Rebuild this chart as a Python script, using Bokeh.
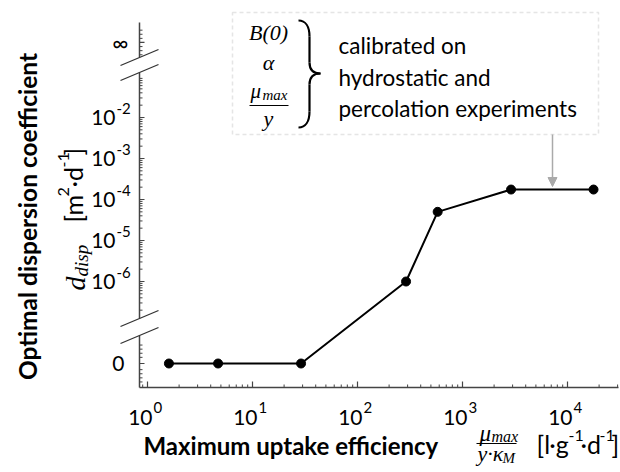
import math
from bokeh.plotting import figure
from bokeh.models import Range1d, LinearScale, Label, Arrow, NormalHead, BoxAnnotation
from bokeh.core.properties import value
from bokeh.embed import file_html
from bokeh.resources import INLINE

# ---------------- data ----------------
uptake_eff = [1.6, 4.7, 29, 290, 580, 2900, 17700]          # mu_max/(y*K_M)  [l g^-1 d^-1]
d_disp = [0, 0, 0, 1e-6, 5e-5, 1.75e-4, 1.75e-4]             # optimal dispersion coeff [m2 d-1]
x_ticks = [1, 10, 100, 1000, 10000]
x_tick_exponents = ["0", "1", "2", "3", "4"]
y_log_ticks = [-6, -5, -4, -3, -2]
y_tick_exponents = ["-6", "-5", "-4", "-3", "-2"]
zero_label = "0"
inf_label = "∞"

# ---------------- layout constants ----------------
W, H = 620, 472
PX_DEC_X, X0_PX = 105.0, 147.0      # pixels per decade on x, pixel of 10^0
PX_DEC_Y, YM6_PX = 41.0, 281.0      # pixels per decade on y, pixel of 10^-6
ZERO_U = -8.0                       # broken-axis position used for value 0
INF_U = -0.17                       # broken-axis position used for infinity
AX_LEFT, AX_RIGHT, AX_BOTTOM, AX_TOP = 139, 618, 387, 22

X_LO = 10 ** ((0 - X0_PX) / PX_DEC_X)
X_HI = 10 ** ((W - X0_PX) / PX_DEC_X)
U_LO = -6 + (YM6_PX - H) / PX_DEC_Y
U_HI = -6 + YM6_PX / PX_DEC_Y

y_u = [ZERO_U if v == 0 else math.log10(v) for v in d_disp]

SANS = "Lato"
SERIF = "Liberation Serif"
AX = "#444444"
GRAY = "#aaaaaa"

p = figure(width=W, height=H, x_axis_type="log",
           x_range=Range1d(X_LO, X_HI), y_range=Range1d(U_LO, U_HI),
           x_axis_location=None, y_axis_location=None,
           output_backend="svg", toolbar_location=None,
           min_border_left=0, min_border_right=0, min_border_top=0, min_border_bottom=0)
p.outline_line_color = None
p.grid.visible = False

# page-pixel helper ranges for annotations
p.extra_x_ranges = {"px": Range1d(0, W)}
p.extra_x_scales = {"px": LinearScale()}
p.extra_y_ranges = {"px": Range1d(H, 0)}
PXY = dict(x_range_name="px", y_range_name="px")

# ---------------- x axis ----------------
x_minor = [k * 10 ** d for d in range(-1, 5) for k in range(2, 10)
           if 10 ** ((AX_LEFT - X0_PX) / PX_DEC_X) <= k * 10 ** d <= 10 ** ((AX_RIGHT - X0_PX) / PX_DEC_X)]
p.segment(x0=[AX_LEFT], y0=[AX_BOTTOM], x1=[AX_RIGHT], y1=[AX_BOTTOM],
          line_color=AX, line_width=1.5, **PXY)
p.segment(x0=x_ticks, x1=x_ticks, y0=[AX_BOTTOM] * len(x_ticks), y1=[AX_BOTTOM - 6] * len(x_ticks),
          line_color=AX, line_width=1.2, y_range_name="px")
p.segment(x0=x_minor, x1=x_minor, y0=[AX_BOTTOM] * len(x_minor), y1=[AX_BOTTOM - 3] * len(x_minor),
          line_color=AX, line_width=1, y_range_name="px")
p.text(x=x_ticks, y=[417] * len(x_ticks), text=["10"] * len(x_ticks), x_offset=5,
       text_align="right", text_baseline="middle", text_font=value(SANS),
       text_font_size="21px", text_color="black", y_range_name="px")
p.text(x=x_ticks, y=[407] * len(x_ticks), text=x_tick_exponents, x_offset=6,
       text_align="left", text_baseline="middle", text_font=value(SANS),
       text_font_size="15px", text_color="black", y_range_name="px")

# ---------------- broken y axis ----------------
y_minor = [d + math.log10(k) for d in range(-7, 0) for k in range(2, 10)
           if -6.9 < d + math.log10(k) < -0.9]
y_minor += [ZERO_U + o for o in (-0.45, -0.35, -0.25, -0.15, 0.15, 0.25, 0.35, 0.45)]
y_minor += [INF_U + o for o in (-0.3, -0.2, -0.1, 0.1, 0.2, 0.3)]
y_major = [ZERO_U] + y_log_ticks + [INF_U]

for y0, y1 in [(AX_BOTTOM, 335), (318, 72), (57, AX_TOP)]:
    p.segment(x0=[AX_LEFT], y0=[y0], x1=[AX_LEFT], y1=[y1], line_color=AX, line_width=1.5, **PXY)
for yc in (57, 72, 318, 335):
    p.segment(x0=[120], y0=[yc + 8], x1=[158], y1=[yc - 8], line_color="#333333", line_width=1.2, **PXY)
p.segment(x0=[AX_LEFT] * len(y_major), x1=[AX_LEFT + 5] * len(y_major), y0=y_major, y1=y_major,
          line_color=AX, line_width=1.2, x_range_name="px")
p.segment(x0=[AX_LEFT] * len(y_minor), x1=[AX_LEFT + 3] * len(y_minor), y0=y_minor, y1=y_minor,
          line_color=AX, line_width=1, x_range_name="px")
p.text(x=[115] * len(y_log_ticks), y=y_log_ticks, text=["10"] * len(y_log_ticks),
       text_align="right", text_baseline="middle", text_font=value(SANS),
       text_font_size="21px", text_color="black", x_range_name="px")
p.text(x=[116] * len(y_log_ticks), y=y_log_ticks, text=y_tick_exponents, y_offset=-9,
       text_align="left", text_baseline="middle", text_font=value(SANS),
       text_font_size="15px", text_color="black", x_range_name="px")
p.text(x=[124], y=[ZERO_U], text=[zero_label], text_align="right", text_baseline="middle",
       text_font=value(SANS), text_font_size="21px", text_color="black", x_range_name="px")
p.text(x=[128], y=[INF_U], text=[inf_label], text_align="right", text_baseline="middle",
       text_font=value(SANS), text_font_size="22px", text_color="black", x_range_name="px")

# ---------------- data ----------------
p.line(uptake_eff, y_u, line_color="black", line_width=2)
p.scatter(uptake_eff, y_u, size=9, color="black")


def lab(text, x, y, size, style="normal", font=SANS, align="left", baseline="middle", angle=0.0):
    p.add_layout(Label(x=x, y=y, text=text, text_font=font, text_font_size=f"{size}px",
                       text_font_style=style, text_align=align, text_baseline=baseline,
                       angle=angle, text_color="black", **PXY))


# ---------------- y axis title ----------------
R = math.pi / 2
lab("Optimal dispersion coefficient", 27, 216, 24.5, "bold", align="center", angle=R)
lab("d", 75, 290, 28, "italic", font=SERIF, angle=R)
lab("disp", 81, 276, 19, "italic", font=SERIF, angle=R)
lab("[m", 72, 222, 25, angle=R)
lab("2", 63, 196, 16, angle=R)
lab("·d", 72, 187, 25, angle=R)
lab("-1", 63, 167, 16, angle=R)
lab("]", 72, 155, 25, angle=R)

# ---------------- x axis title ----------------
lab("Maximum uptake efficiency", 143, 445, 24, "bold")
lab("μ", 479, 433, 23, "italic", font=SERIF)
lab("max", 491, 436, 16, "italic", font=SERIF)
p.segment(x0=[476], y0=[443], x1=[516], y1=[443], line_color="black", line_width=1, **PXY)
lab("y·κ", 477, 453, 22, "italic", font=SERIF)
lab("M", 502, 457, 15, "italic", font=SERIF)
lab("[l·g", 536, 443, 25)
lab("-1", 568, 435, 16)
lab("·d", 580, 443, 25)
lab("-1", 599, 435, 16)
lab("]", 611, 443, 25)

# ---------------- annotation box ----------------
p.add_layout(BoxAnnotation(left=232, right=598, top=12, bottom=134, fill_alpha=0,
                           line_color=GRAY, line_dash="4 3", line_width=1.5, **PXY))
p.add_layout(Arrow(x_start=552, y_start=134, x_end=552, y_end=186,
                   end=NormalHead(size=9, fill_color=GRAY, line_color=GRAY),
                   line_color=GRAY, line_width=1.5, **PXY))
lab("B(0)", 268, 32, 22, "italic", font=SERIF, align="center")
lab("α", 268, 62, 22, "italic", font=SERIF, align="center")
lab("μ", 250, 90, 21, "italic", font=SERIF)
lab("max", 262, 94, 15, "italic", font=SERIF)
p.segment(x0=[249], y0=[105], x1=[288], y1=[105], line_color="black", line_width=1, **PXY)
lab("y", 268, 118, 22, "italic", font=SERIF, align="center")
lab("calibrated on", 338, 45, 22.5)
lab("hydrostatic and", 338, 77, 22.5)
lab("percolation experiments", 338, 108, 22.5)

# brace
p.bezier(x0=[298, 309, 320, 309], y0=[20, 62, 73, 111],
         x1=[309, 320, 309, 298], y1=[36, 73, 84, 127],
         cx0=[305, 309, 313, 309], cy0=[20, 70, 73, 121],
         cx1=[309, 313, 309, 305], cy1=[26, 73, 76, 127],
         line_color="black", line_width=2.2, **PXY)
p.segment(x0=[309, 309], y0=[36, 84], x1=[309, 309], y1=[62, 111],
          line_color="black", line_width=2.2, **PXY)

open("out.html", "w").write(file_html(p, INLINE))
